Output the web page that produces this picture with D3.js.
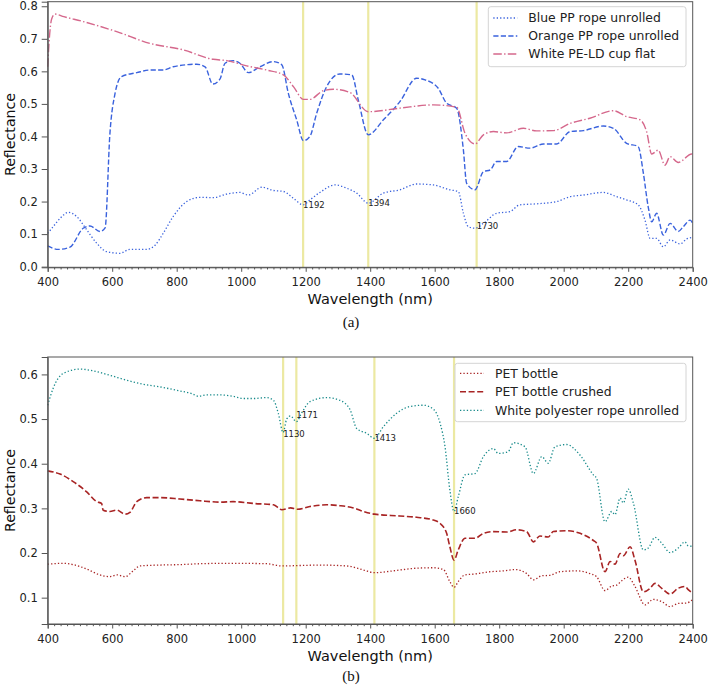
<!DOCTYPE html>
<html><head><meta charset="utf-8">
<script src="https://cdn.jsdelivr.net/npm/d3@7"></script>
<style>
body{margin:0;background:#fff;}
svg{display:block;font-family:"DejaVu Sans",sans-serif;}
</style></head>
<body>
<svg id="chart" width="708" height="687"></svg>
<script>
// ---------- Panel (a) data ----------
const blueWl = [400,417,440,464,490,521,552,583,624,655,707,733,758,789,831,872,913,955,996,1022,1064,1100,1131,1162,1192,1213,1244,1291,1327,1358,1394,1441,1492,1544,1596,1647,1673,1689,1704,1725,1751,1792,1833,1864,1916,1978,2020,2061,2123,2164,2195,2231,2252,2268,2288,2309,2330,2361,2381,2400];
const blueVal = [0.102,0.123,0.150,0.167,0.154,0.113,0.072,0.046,0.041,0.053,0.053,0.066,0.102,0.154,0.200,0.213,0.212,0.223,0.228,0.220,0.244,0.234,0.231,0.210,0.190,0.205,0.228,0.251,0.241,0.226,0.195,0.226,0.236,0.254,0.251,0.236,0.231,0.164,0.123,0.118,0.133,0.164,0.169,0.190,0.193,0.200,0.215,0.220,0.228,0.215,0.205,0.190,0.143,0.087,0.087,0.061,0.082,0.070,0.085,0.090];
const orangeWl = [400,433,469,510,531,562,578,593,609,629,676,717,758,789,862,888,912,934,950,975,996,1022,1058,1100,1126,1146,1172,1193,1213,1234,1265,1306,1343,1363,1394,1441,1492,1544,1570,1611,1637,1668,1689,1699,1725,1751,1772,1792,1823,1859,1895,1937,1978,2020,2061,2123,2154,2195,2231,2247,2262,2273,2288,2309,2330,2355,2371,2392,2400];
const orangeVal = [0.064,0.053,0.060,0.118,0.125,0.108,0.119,0.410,0.533,0.584,0.596,0.604,0.604,0.614,0.622,0.614,0.561,0.576,0.625,0.633,0.625,0.596,0.614,0.630,0.620,0.533,0.451,0.387,0.400,0.471,0.553,0.592,0.589,0.512,0.405,0.451,0.507,0.579,0.574,0.548,0.502,0.487,0.358,0.256,0.236,0.292,0.297,0.323,0.323,0.369,0.364,0.377,0.377,0.415,0.418,0.432,0.425,0.379,0.369,0.287,0.184,0.138,0.164,0.097,0.133,0.108,0.123,0.143,0.133];
const pinkWl = [400,405,412,422,450,510,614,717,820,913,955,1017,1079,1131,1162,1193,1213,1255,1286,1337,1394,1492,1596,1668,1694,1725,1751,1782,1823,1875,1916,1968,2020,2081,2154,2195,2237,2257,2273,2293,2314,2330,2355,2397,2400];
const pinkVal = [0.614,0.700,0.760,0.776,0.768,0.753,0.722,0.686,0.666,0.637,0.633,0.617,0.604,0.589,0.553,0.514,0.514,0.541,0.545,0.535,0.476,0.487,0.497,0.490,0.410,0.377,0.405,0.415,0.411,0.425,0.417,0.418,0.440,0.456,0.479,0.461,0.451,0.415,0.346,0.358,0.312,0.338,0.320,0.346,0.345];
const markA = [1192,1394,1730];
const markAY = [0.190,0.195,0.125];

// ---------- Panel (b) data ----------
const tealWl = [400,417,448,500,541,593,645,696,748,810,847,867,893,935,975,1007,1038,1079,1100,1115,1130,1141,1153,1171,1187,1213,1265,1306,1337,1358,1389,1413,1441,1482,1523,1565,1596,1617,1632,1647,1660,1673,1694,1725,1751,1782,1797,1828,1844,1880,1906,1932,1952,1973,2009,2051,2092,2102,2128,2149,2159,2175,2185,2200,2216,2247,2262,2283,2304,2330,2355,2376,2386,2400];
const tealVal = [0.531,0.569,0.602,0.612,0.608,0.598,0.587,0.578,0.572,0.563,0.557,0.551,0.554,0.554,0.551,0.546,0.546,0.548,0.542,0.513,0.470,0.500,0.507,0.494,0.513,0.539,0.548,0.542,0.522,0.479,0.468,0.457,0.483,0.513,0.528,0.531,0.522,0.490,0.438,0.341,0.293,0.326,0.375,0.378,0.416,0.434,0.423,0.427,0.447,0.438,0.378,0.416,0.401,0.438,0.443,0.419,0.375,0.367,0.270,0.293,0.286,0.323,0.312,0.343,0.312,0.207,0.211,0.235,0.222,0.201,0.211,0.225,0.216,0.215];
const crushWl = [400,438,479,521,552,567,572,593,614,640,655,676,707,748,810,872,935,975,1038,1100,1126,1153,1174,1213,1265,1306,1348,1379,1413,1492,1544,1596,1617,1637,1647,1660,1673,1694,1725,1751,1782,1823,1854,1885,1906,1926,1952,1968,2009,2051,2092,2102,2128,2144,2159,2175,2185,2206,2221,2247,2268,2283,2304,2330,2355,2376,2386,2400];
const crushVal = [0.384,0.377,0.360,0.337,0.315,0.311,0.296,0.293,0.296,0.287,0.291,0.315,0.324,0.324,0.321,0.317,0.314,0.315,0.311,0.308,0.297,0.301,0.298,0.304,0.308,0.306,0.301,0.293,0.287,0.283,0.280,0.274,0.266,0.244,0.214,0.184,0.207,0.233,0.233,0.244,0.248,0.247,0.252,0.248,0.225,0.238,0.236,0.248,0.250,0.244,0.228,0.222,0.158,0.181,0.175,0.199,0.194,0.214,0.184,0.113,0.121,0.132,0.121,0.108,0.121,0.125,0.118,0.110];
const petWl = [400,448,479,521,562,593,614,640,665,686,748,810,872,975,1079,1126,1182,1244,1327,1379,1413,1492,1544,1596,1627,1647,1660,1673,1694,1725,1771,1813,1849,1885,1906,1932,1957,1988,2040,2081,2102,2128,2149,2164,2180,2200,2221,2252,2278,2304,2330,2355,2381,2400];
const petVal = [0.175,0.177,0.174,0.164,0.151,0.147,0.151,0.147,0.160,0.171,0.173,0.174,0.176,0.177,0.176,0.171,0.172,0.173,0.171,0.162,0.156,0.162,0.166,0.167,0.163,0.136,0.123,0.136,0.151,0.153,0.158,0.160,0.163,0.154,0.140,0.149,0.150,0.158,0.160,0.154,0.147,0.116,0.126,0.128,0.138,0.146,0.125,0.084,0.096,0.091,0.080,0.087,0.088,0.096];
const markB = [1130,1171,1413,1660];
const markBY = [0.466,0.510,0.457,0.293];

// ---------- axis ticks ----------
const xTicks = [400,600,800,1000,1200,1400,1600,1800,2000,2200,2400];
const yTicksA = [0.0,0.1,0.2,0.3,0.4,0.5,0.6,0.7,0.8];
const yTicksB = [0.1,0.2,0.3,0.4,0.5,0.6];

const svg = d3.select("#chart");
const BLUE = "#3a62dd", PINK = "#d5688c", TEAL = "#178a8a", RED = "#a82424", VLINE = "#ece9a2";

function panel(cfg){
  const g = svg.append("g");
  const x = d3.scaleLinear().domain([400,2400]).range([cfg.left, cfg.right]);
  const y = d3.scaleLinear().domain(cfg.ydom).range([cfg.bottom, cfg.top]);

  g.selectAll("line.vm").data(cfg.marks).enter().append("line")
    .attr("x1", d=>x(d)).attr("x2", d=>x(d)).attr("y1", cfg.top).attr("y2", cfg.bottom)
    .attr("stroke", VLINE).attr("stroke-width", 2.2);

  const line = d3.line().x(d=>x(d[0])).y(d=>y(d[1])).curve(d3.curveMonotoneX);
  cfg.series.forEach(s=>{
    const pts = s.wl.map((w,i)=>[w, s.val[i]]);
    g.append("path").attr("d", line(pts)).attr("fill","none")
      .attr("stroke", s.color).attr("stroke-width", s.lw).attr("stroke-dasharray", s.dash);
  });

  g.selectAll("text.ml").data(cfg.marks).enter().append("text")
    .attr("x", d=>x(d)).attr("y", (d,i)=>y(cfg.markY[i]))
    .attr("dy","0.35em").attr("font-size", 8.5).attr("fill","#222").text(d=>d);

  g.append("rect").attr("x", cfg.left).attr("y", cfg.top)
    .attr("width", cfg.right-cfg.left).attr("height", cfg.bottom-cfg.top)
    .attr("fill","none").attr("stroke","#555").attr("stroke-width",1);

  g.append("g").attr("transform", `translate(0,${cfg.bottom})`)
    .call(d3.axisBottom(x).tickValues(xTicks).tickFormat(d3.format("d")).tickSize(4.5).tickPadding(6.5));
  const minor = d3.range(420, 2400, 20).filter(v=>v%200!==0);
  g.append("g").attr("transform", `translate(0,${cfg.bottom})`)
    .call(d3.axisBottom(x).tickValues(minor).tickFormat("").tickSize(2.2))
    .call(a=>a.select(".domain").remove());
  g.append("g").attr("transform", `translate(${cfg.left},0)`)
    .call(d3.axisLeft(y).tickValues(cfg.yticks).tickFormat(d3.format(".1f")).tickSize(6).tickPadding(4));
  g.selectAll(".domain").attr("stroke","#555");
  g.selectAll(".tick line").attr("stroke","#555");
  g.selectAll(".tick text").attr("font-size", 11.5).attr("fill","#222").attr("font-family","DejaVu Sans");

  g.append("text").attr("x", (cfg.left+cfg.right)/2).attr("y", cfg.bottom+37)
    .attr("text-anchor","middle").attr("font-size",14.5).attr("fill","#111").text("Wavelength (nm)");
  g.append("text").attr("transform", `translate(15,${(cfg.top+cfg.bottom)/2}) rotate(-90)`)
    .attr("text-anchor","middle").attr("font-size",14.2).attr("fill","#111").text("Reflectance");
  svg.append("text").attr("x", 351).attr("y", cfg.captionY).attr("text-anchor","middle")
    .attr("font-family","'Liberation Serif','Times New Roman',serif").attr("font-size",15)
    .attr("fill","#111").text(cfg.caption);

  const L = cfg.legend;
  const lg = g.append("g");
  lg.append("rect").attr("x", L.x).attr("y", L.y).attr("width", L.w).attr("height", L.h)
    .attr("rx", 2.5).attr("fill","white").attr("fill-opacity",0.85).attr("stroke","#d4d4d4");
  cfg.series.forEach((s,i)=>{
    const yy = L.y + L.first + i*L.step;
    lg.append("line").attr("x1", L.x+5).attr("x2", L.x+29).attr("y1", yy).attr("y2", yy)
      .attr("stroke", s.color).attr("stroke-width", s.lw).attr("stroke-dasharray", s.dash);
    lg.append("text").attr("x", L.x+40).attr("y", yy).attr("dy","0.35em")
      .attr("font-size", 12.4).attr("fill","#222").text(s.name);
  });
}

panel({
  left:47.7, right:692.7, top:1.7, bottom:267.3, ydom:[-0.002,0.814], yticks:yTicksA,
  marks:markA, markY:markAY, caption:"(a)", captionY:327,
  legend:{x:488.3, y:6.7, w:197.7, h:60, first:11.3, step:18},
  series:[
    {name:"Blue PP rope unrolled", wl:blueWl, val:blueVal, color:BLUE, lw:1.3, dash:"1.3,2.1"},
    {name:"Orange PP rope unrolled", wl:orangeWl, val:orangeVal, color:BLUE, lw:1.4, dash:"5.2,2.3"},
    {name:"White PE-LD cup flat", wl:pinkWl, val:pinkVal, color:PINK, lw:1.4, dash:"8.5,2.3,1.4,2.3"}
  ]
});
panel({
  left:47.7, right:692.7, top:357, bottom:624, ydom:[0.041,0.639], yticks:yTicksB,
  marks:markB, markY:markBY, caption:"(b)", captionY:681,
  legend:{x:455, y:363.3, w:231, h:58.4, first:10, step:18.5},
  series:[
    {name:"PET bottle", wl:petWl, val:petVal, color:RED, lw:1.3, dash:"1.3,2.1"},
    {name:"PET bottle crushed", wl:crushWl, val:crushVal, color:RED, lw:1.6, dash:"6,2.6"},
    {name:"White polyester rope unrolled", wl:tealWl, val:tealVal, color:TEAL, lw:1.3, dash:"1.3,2.1"}
  ]
});
</script>
</body></html>
